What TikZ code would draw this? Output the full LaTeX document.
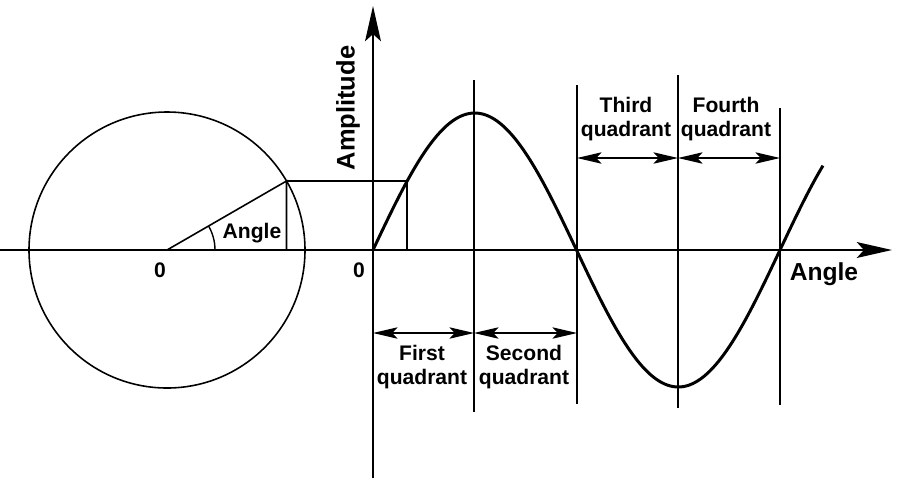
\documentclass[tikz,border=0pt]{standalone}
\usepackage{fontspec}
\setmainfont{Liberation Sans}
\usetikzlibrary{arrows.meta}
\tikzset{
  truc/.style={-{Stealth[length=20pt,width=9pt,inset=4pt]}, line width=1.2pt},
  khoang/.style={{Stealth[length=14pt,width=6.5pt,inset=3pt]}-{Stealth[length=14pt,width=6.5pt,inset=3pt]}, line width=0.7pt},
  vach/.style={line width=0.9pt},
  nhan/.style={font=\bfseries\fontsize{12}{14}\selectfont, align=center, inner sep=0pt},
}
\begin{document}
\begin{tikzpicture}[x={(0.02cm,0)},y={(0,-0.02cm)}]
    \useasboundingbox (0,0) rectangle (903,478);
    % Các điểm chính
    \coordinate (O) at (167,250);
    \coordinate (P) at (286.5,181);
    \coordinate (H) at (286.5,250);
    \coordinate (S) at (373,250);
    \coordinate (Q) at (406.9,181);
    \coordinate (K) at (406.9,250);
    
    % Vẽ trục tọa độ
    \coordinate (xa) at (0,250);
    \coordinate (xb) at (892,250);
    \coordinate (ya) at (373,478);
    \coordinate (yb) at (373,6);
    \draw[truc] (xa) -- (xb);
    \draw[truc] (ya) -- (yb);
    
    % Vẽ đường tròn và bán kính
    \draw[line width=0.9pt] (O) circle[radius=138];
    \draw[line width=0.9pt] (O) -- (P) -- (H);
    \draw[line width=0.8pt] (O) ++(48,0) arc (0:-30:48);
    \draw[line width=0.9pt] (P) -- (Q) -- (K);
    
    % Vẽ đường sin
    \draw[line width=1.7pt] plot[domain=0:398,samples=160] ({373+\x/360*407},{250-137*sin(\x)});
    
    % Vẽ các vạch chia góc phần tư
    \foreach \ten/\x/\ya/\yb in {a/474/80/412, b/577/85/404, c/678/75/408, d/780/108/405} {
      \coordinate (\ten1) at (\x,\ya);
      \coordinate (\ten2) at (\x,\yb);
      \draw[vach] (\ten1) -- (\ten2);
    }
    
    % Mũi tên hai đầu
    \coordinate (m0) at (373,333);
    \coordinate (m1) at (474,333);
    \coordinate (m2) at (577,333);
    \coordinate (n0) at (577,158);
    \coordinate (n1) at (678,158);
    \coordinate (n2) at (780,158);
    \draw[khoang] (m0) -- (m1);
    \draw[khoang] (m1) -- (m2);
    \draw[khoang] (n0) -- (n1);
    \draw[khoang] (n1) -- (n2);
    
    % Nhãn
    \node[nhan] (goc1) at (160,270) {0};
    \node[nhan] (goc2) at (359,270) {0};
    \node[nhan] (gocnho) at (252,233) {Angle};
    \node[nhan,font=\bfseries\fontsize{14.5}{16}\selectfont,rotate=90] (biendo) at (348,108) {Amplitude};
    \node[nhan,font=\bfseries\fontsize{14}{16}\selectfont] (goclon) at (824,274) {Angle};
    \node[nhan] (q1) at (422,367) {First\\quadrant};
    \node[nhan] (q2) at (524,367) {Second\\quadrant};
    \node[nhan] (q3) at (626,119) {Third\\quadrant};
    \node[nhan] (q4) at (726,119) {Fourth\\quadrant};
\end{tikzpicture}
\end{document}
